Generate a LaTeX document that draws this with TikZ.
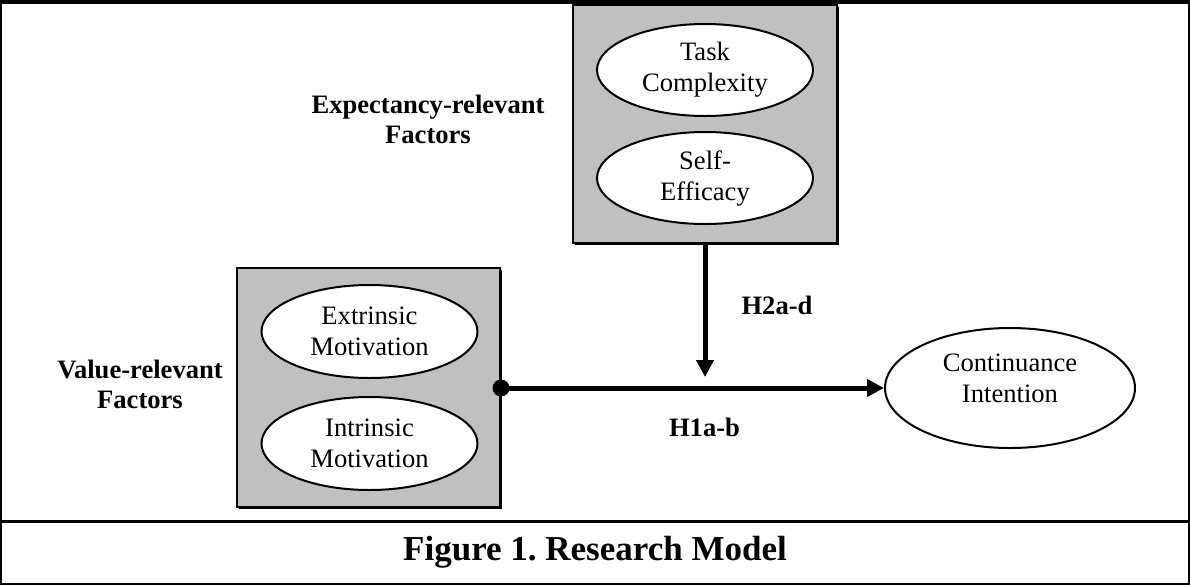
\documentclass[tikz,border=0pt]{standalone}
\usepackage{fontspec}
\setmainfont{Liberation Serif}
\usetikzlibrary{shapes.geometric,arrows.meta,shadows}
\definecolor{boxgray}{HTML}{C0C0C0}
\begin{document}
\begin{tikzpicture}[x=0.5pt,y=-0.5pt,
  gbox/.style={draw=black,line width=1pt,fill=boxgray,inner sep=0pt,
    drop shadow={shadow xshift=0.8pt,shadow yshift=-0.8pt,fill=black,opacity=1}},
  oval/.style={ellipse,draw=black,line width=1pt,fill=white,inner sep=0pt,
    minimum width=108pt,minimum height=46pt,align=center,
    font=\fontsize{13.3}{15.5}\selectfont},
  lbl/.style={align=center,font=\fontsize{13.3}{15}\selectfont\bfseries,inner sep=0pt},
  conn/.style={line width=2.5pt,-{Triangle[length=8.5pt,width=8.5pt]}},
  dotnode/.style={circle,fill=black,inner sep=0pt,minimum size=8.5pt}
]
\useasboundingbox (0,0) rectangle (1190,585);
% frame
\draw[line width=1pt] (1,1) rectangle (1189,584);
\draw[line width=2pt] (0,1.5) -- (1190,1.5);
\draw[line width=1.5pt] (0,521) -- (1190,521);
% boxes
\node[gbox,minimum width=132pt,minimum height=119pt] (ebox) at (705,124) {};
\node[gbox,minimum width=131.5pt,minimum height=119.5pt] (vbox) at (368.5,387.5) {};
% ellipses
\node[oval] (task) at (705,70) {Task\\Complexity};
\node[oval] (self) at (705,178) {Self-\\Efficacy};
\node[oval,minimum height=46.5pt] (ext) at (369.5,331.5) {Extrinsic\\Motivation};
\node[oval,minimum height=46.5pt] (int) at (369.5,443.5) {Intrinsic\\Motivation};
\node[oval,minimum width=125pt,minimum height=60pt] (ci) at (1010,388) {Continuance\\Intention\rule[-9.5pt]{0pt}{0pt}};
% labels
\node[lbl] (elbl) at (428,119) {Expectancy-relevant\\Factors};
\node[lbl] (vlbl) at (140,384) {Value-relevant\\Factors};
\node[lbl] (h2) at (777,305) {H2a-d};
\node[lbl] (h1) at (704.5,427) {H1a-b};
% connectors
\node[dotnode] (dot) at (501,388) {};
\coordinate (tip) at (705,377);
\draw[conn] (dot.center) -- (ci.west);
\draw[conn] (ebox.south) -- (tip);
% caption
\node[font=\fontsize{17.5}{20}\selectfont\bfseries] (cap) at (595,552) {\frenchspacing Figure 1. Research Model};
\end{tikzpicture}
\end{document}
